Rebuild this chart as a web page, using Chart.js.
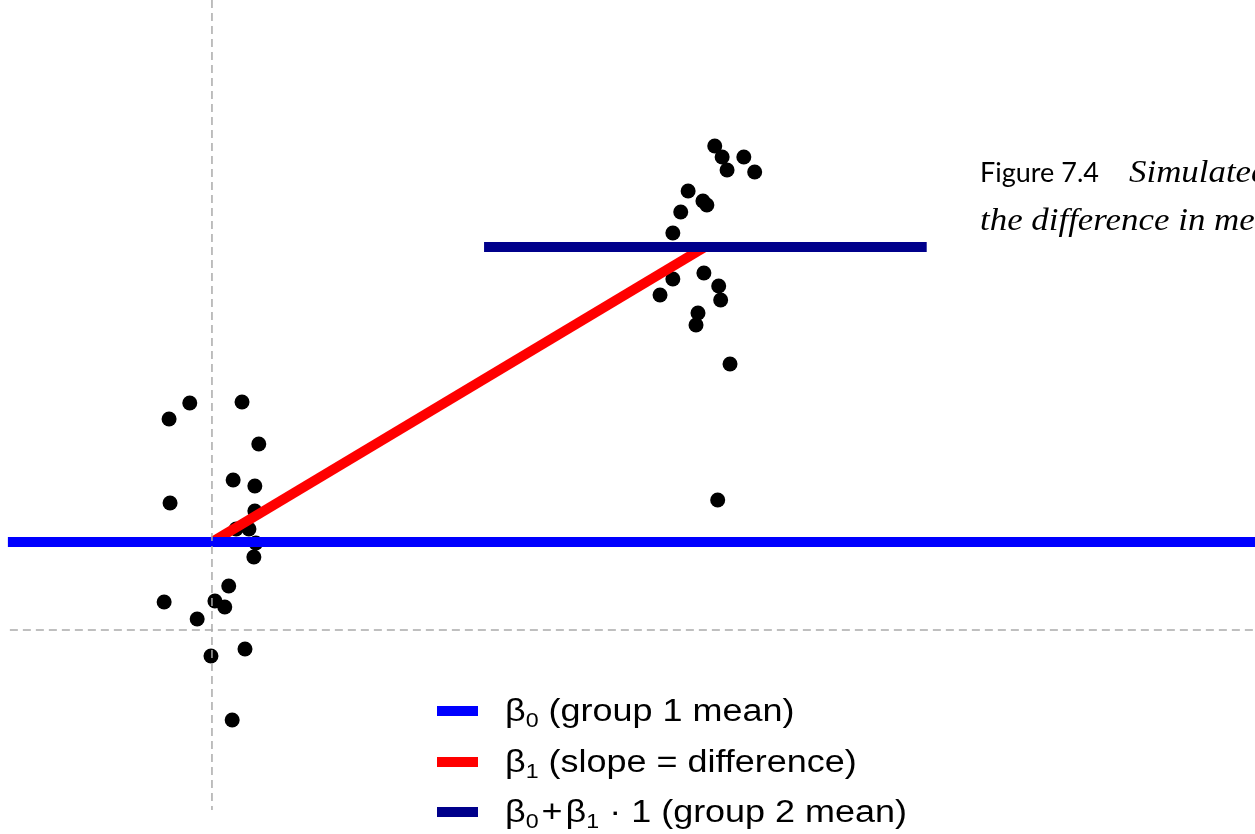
<!DOCTYPE html>
<html lang="en">
<head>
    <meta charset="UTF-8">
    <script src="https://cdn.jsdelivr.net/npm/chart.js"></script>
    <title>Simulated group means</title>
    <style>
        html, body {
            margin: 0;
            padding: 0;
            background: #fff;
            overflow: hidden;
        }
        .wrap {
            position: relative;
            width: 1255px;
            height: 834px;
            overflow: hidden;
        }
        canvas { display: block; }
        .legend {
            position: absolute;
            left: 437px;
            top: 690px;
            font-family: "Liberation Sans", Arial, sans-serif;
            font-size: 31px;
            color: #000;
        }
        .legend .row {
            position: relative;
            height: 50.5px;
            line-height: 42px;
            white-space: nowrap;
        }
        .legend .key {
            position: absolute;
            left: 0;
            top: 16px;
            width: 41px;
            height: 10px;
        }
        .legend .txt {
            position: absolute;
            left: 68px;
            top: 0;
            transform: scaleX(1.16);
            transform-origin: left center;
        }
        .legend sub { font-size: 20px; vertical-align: -6px; }
        .caption {
            position: absolute;
            left: 980px;
            top: 150px;
            white-space: nowrap;
            line-height: 42px;
        }
        .caption .fig { font-family: Lato, "Open Sans", sans-serif; font-size: 27px; margin-right: 30px; }
        .caption i {
            display: inline-block;
            font-family: "Liberation Serif", serif;
            font-size: 32px;
            transform: scaleX(1.09);
            transform-origin: left center;
        }
    </style>
</head>
<body>
<div class="wrap">
    <canvas id="chart" width="1255" height="834"></canvas>
    <div class="legend">
        <div class="row"><span class="key" style="background:#0000ff"></span><span class="txt">β<sub>0</sub> (group 1 mean)</span></div>
        <div class="row"><span class="key" style="background:#ff0000"></span><span class="txt">β<sub>1</sub> (slope = difference)</span></div>
        <div class="row"><span class="key" style="background:#00008b"></span><span class="txt">β<sub>0</sub>&#8202;+&#8202;β<sub>1</sub> · 1 (group 2 mean)</span></div>
    </div>
    <div class="caption">
        <span class="fig">Figure 7.4</span><i>Simulated data for two groups, with</i><br>
        <i>the difference in means as the slope</i>
    </div>
</div>
<script>
// group 1 sits at x = 0, group 2 at x = 1
const group1X = [-0.087, -0.045, 0.061, 0.095, 0.043, 0.087, -0.085, 0.087, 0.049, 0.075,
                 0.089, 0.085, 0.034, -0.097, 0.006, 0.026, -0.030, 0.067, -0.002, 0.041];
const group1Y = [2.11, 2.27, 2.28, 1.86, 1.50, 1.44, 1.27, 1.19, 1.01, 1.01,
                 0.87, 0.73, 0.44, 0.28, 0.29, 0.23, 0.11, -0.19, -0.26, -0.90];
const group2X = [1.020, 1.035, 1.079, 1.045, 1.101, 0.966, 0.996, 1.004, 0.951, 0.935,
                 0.998, 0.935, 0.909, 1.028, 1.032, 0.986, 0.982, 1.051, 1.026];
const group2Y = [4.84, 4.73, 4.73, 4.60, 4.58, 4.39, 4.29, 4.25, 4.18, 3.97,
                 3.57, 3.51, 3.35, 3.44, 3.30, 3.17, 3.05, 2.66, 1.30];

const beta0 = 0.88;
const beta1 = 2.95;
const group2Span = [0.552, 1.450];
const xRange = [-0.430, 2.116];
const yRange = [-2.04, 6.30];

const toPoints = (xs, ys) => xs.map((x, i) => ({ x: x, y: ys[i] }));

const ctx = document.getElementById('chart').getContext('2d');
new Chart(ctx, {
    type: 'scatter',
    data: {
        datasets: [
            {
                label: 'zero x',
                data: [{ x: 0, y: yRange[1] }, { x: 0, y: -1.80 }],
                showLine: true,
                borderColor: '#aaaaaa',
                borderWidth: 1.5,
                borderDash: [8, 5],
                pointRadius: 0
            },
            {
                label: 'zero y',
                data: [{ x: -0.41, y: 0 }, { x: xRange[1], y: 0 }],
                showLine: true,
                borderColor: '#aaaaaa',
                borderWidth: 1.5,
                borderDash: [8, 5],
                pointRadius: 0
            },
            {
                label: 'group 1 mean',
                data: [{ x: -0.414, y: beta0 }, { x: xRange[1], y: beta0 }],
                showLine: true,
                borderColor: '#0000ff',
                borderWidth: 10,
                borderCapStyle: 'butt',
                pointRadius: 0
            },
            {
                label: 'group 2 mean',
                data: [{ x: group2Span[0], y: beta0 + beta1 }, { x: group2Span[1], y: beta0 + beta1 }],
                showLine: true,
                borderColor: '#00008b',
                borderWidth: 10,
                borderCapStyle: 'butt',
                pointRadius: 0
            },
            {
                label: 'slope',
                data: [{ x: 0, y: beta0 }, { x: 1, y: beta0 + beta1 }],
                showLine: true,
                borderColor: '#ff0000',
                borderWidth: 10,
                borderCapStyle: 'butt',
                pointRadius: 0
            },
            {
                label: 'data',
                data: toPoints(group1X, group1Y).concat(toPoints(group2X, group2Y)),
                backgroundColor: '#000000',
                borderColor: '#000000',
                pointRadius: 7.5,
                pointBorderWidth: 0
            }
        ]
    },
    options: {
        responsive: false,
        animation: false,
        layout: { padding: 0, autoPadding: false },
        plugins: {
            legend: { display: false },
            tooltip: { enabled: false }
        },
        scales: {
            x: { type: 'linear', min: xRange[0], max: xRange[1], display: false },
            y: { type: 'linear', min: yRange[0], max: yRange[1], display: false }
        }
    }
});
</script>
</body>
</html>
